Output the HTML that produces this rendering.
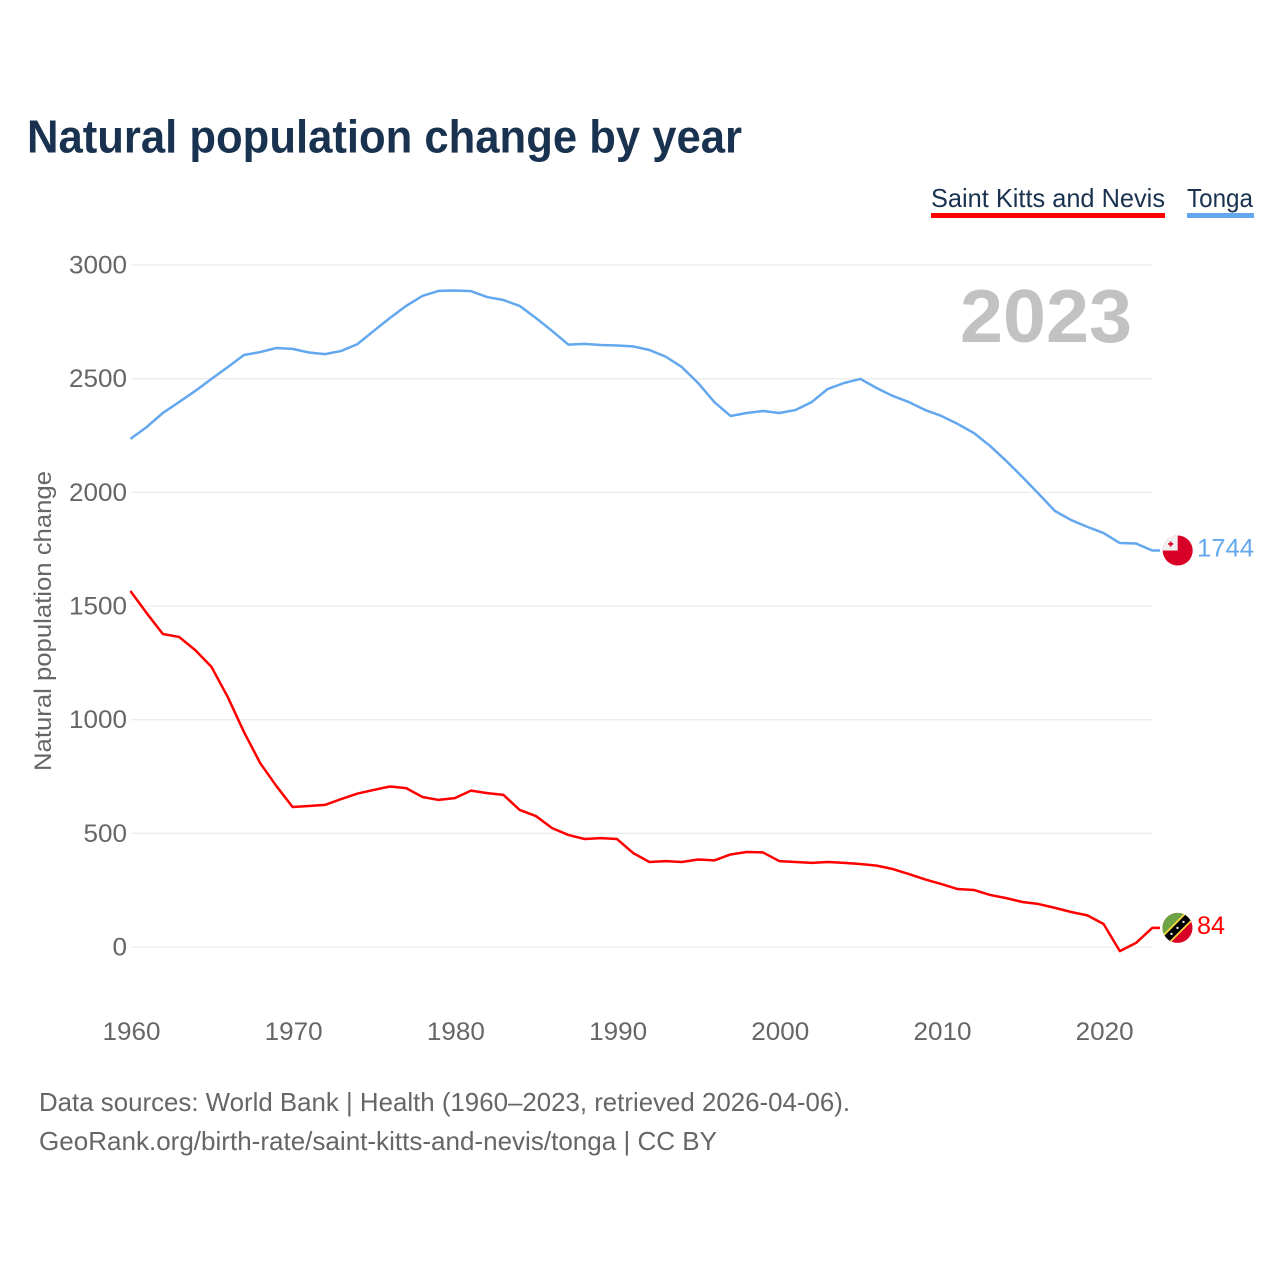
<!DOCTYPE html>
<html lang="en">
<head>
<meta charset="utf-8">
<title>Natural population change by year</title>
<style>
html,body{margin:0;padding:0;background:#fff;width:1280px;height:1280px;overflow:hidden}
svg{display:block;font-family:"Liberation Sans",sans-serif}
</style>
</head>
<body>
<svg id="chart" width="1280" height="1280" viewBox="0 0 1280 1280" xmlns="http://www.w3.org/2000/svg">
  <defs>
    <clipPath id="flag-clip"><circle cx="0" cy="0" r="15"></circle></clipPath>
  </defs>
  <rect width="1280" height="1280" fill="#fff"></rect>
  <text x="27" y="152.5" font-size="46" font-weight="700" fill="#19324f" textLength="715" lengthAdjust="spacingAndGlyphs">Natural population change by year</text>

  <g>
    <text x="931" y="207" font-size="26" fill="#19324f" textLength="234" lengthAdjust="spacingAndGlyphs">Saint Kitts and Nevis</text>
    <rect x="931" y="213" width="234" height="5" fill="#ff0000"></rect>
  </g>
  <g>
    <text x="1187" y="207" font-size="26" fill="#19324f" textLength="66" lengthAdjust="spacingAndGlyphs">Tonga</text>
    <rect x="1187" y="213" width="67" height="5" fill="#63a8ee"></rect>
  </g>

  <g id="grid"></g>
  <g id="y-ticks"></g>
  <g id="x-ticks"></g>

  <text transform="translate(51,771) rotate(-90)" font-size="24" fill="#666" textLength="300" lengthAdjust="spacingAndGlyphs">Natural population change</text>
  <text x="960" y="342" font-size="75" font-weight="700" fill="#c2c2c2" textLength="172" lengthAdjust="spacingAndGlyphs">2023</text>

  <g id="series"></g>
  <g id="markers"></g>

  <text x="39" y="1111" font-size="26" fill="#666" textLength="811" lengthAdjust="spacingAndGlyphs">Data sources: World Bank | Health (1960–2023, retrieved 2026-04-06).</text>
  <text x="39" y="1150" font-size="26" fill="#666" textLength="678" lengthAdjust="spacingAndGlyphs">GeoRank.org/birth-rate/saint-kitts-and-nevis/tonga | CC BY</text>
</svg>
<script>
var startYear = 1960;
var yTickValues = [0, 500, 1000, 1500, 2000, 2500, 3000];
var xTickValues = [1960, 1970, 1980, 1990, 2000, 2010, 2020];
var tongaValues = [2235,2287,2349,2397,2446,2499,2551,2604,2617,2635,2631,2615,2608,2622,2652,2710,2767,2820,2864,2886,2888,2885,2859,2846,2820,2767,2710,2650,2653,2648,2646,2642,2626,2597,2551,2481,2397,2336,2349,2358,2349,2362,2397,2455,2481,2499,2459,2424,2397,2362,2336,2301,2261,2204,2138,2067,1993,1918,1878,1848,1821,1777,1775,1744];
var kittsValues = [1566,1469,1377,1364,1306,1232,1100,946,809,708,616,620,625,651,675,691,706,699,660,647,655,688,677,669,603,576,523,493,475,479,475,413,374,378,374,385,381,407,418,416,378,374,370,374,370,365,358,343,321,297,277,255,251,229,215,198,189,172,154,139,101,-18,18,84];

var NS = 'http://www.w3.org/2000/svg';
function xScale(year) { return 130.4 + (year - 1960) * 16.22; }
function yScale(value) { return 947 - value * 0.22733; }
function make(tag, attrs, parent) {
  var el = document.createElementNS(NS, tag);
  for (var k in attrs) el.setAttribute(k, attrs[k]);
  parent.appendChild(el);
  return el;
}
var grid = document.getElementById('grid');
var yTicks = document.getElementById('y-ticks');
var xTicks = document.getElementById('x-ticks');
var series = document.getElementById('series');
var markers = document.getElementById('markers');

yTickValues.forEach(function (v) {
  var line = make('line', {x1: 131, x2: 1152, y1: yScale(v), y2: yScale(v), stroke: '#ececec', 'stroke-width': 1.3}, grid);
  
  
  var label = make('text', {x: 127, y: yScale(v) + 8.5, 'text-anchor': 'end', 'font-size': 25, fill: '#666'}, yTicks);
  
  
  label.setAttribute('textLength', String(v).length * 14.5);
  label.setAttribute('lengthAdjust', 'spacingAndGlyphs');
  label.textContent = v;
});
xTickValues.forEach(function (year) {
  var label = make('text', {x: xScale(year) + 1.1, y: 1040, 'text-anchor': 'middle', 'font-size': 25, fill: '#666'}, xTicks);
  
  
  label.setAttribute('textLength', 58);
  label.setAttribute('lengthAdjust', 'spacingAndGlyphs');
  label.textContent = year;
});

function drawSeries(values, color, seriesName) {
  var pts = values.map(function (v, i) { return xScale(startYear + i).toFixed(2) + ',' + yScale(v).toFixed(2); });
  var last = values[values.length - 1];
  pts.push('1160,' + yScale(last).toFixed(2));
  var line = make('polyline', {points: pts.join(' '), fill: 'none', stroke: color, 'stroke-width': 2.5, 'stroke-linejoin': 'round'}, series);
  
  
}
drawSeries(tongaValues, '#63a8ee', 'line-tonga');
drawSeries(kittsValues, '#ff0000', 'line-saint-kitts');

function drawValueLabel(value, color, name, width) {
  var label = make('text', {x: 1197, y: yScale(value) + 6, 'font-size': 25, fill: color}, markers);
  
  
  label.setAttribute('textLength', width);
  label.setAttribute('lengthAdjust', 'spacingAndGlyphs');
  label.textContent = value;
}
var tongaLast = tongaValues[tongaValues.length - 1];
var kittsLast = kittsValues[kittsValues.length - 1];

var tongaFlag = make('g', {transform: 'translate(1177.7,' + yScale(tongaLast) + ')', 'clip-path': 'url(#flag-clip)'}, markers);


make('rect', {x: -16, y: -16, width: 32, height: 32, fill: '#d80027'}, tongaFlag);
make('rect', {x: -16, y: -16, width: 16, height: 16, fill: '#f0f0f0'}, tongaFlag);
make('rect', {x: -9.5, y: -7.5, width: 5, height: 1.8, fill: '#d80027'}, tongaFlag);
make('rect', {x: -7.9, y: -9, width: 1.8, height: 5, fill: '#d80027'}, tongaFlag);

var kittsFlag = make('g', {transform: 'translate(1177.5,' + yScale(kittsLast) + ')', 'clip-path': 'url(#flag-clip)'}, markers);


make('rect', {x: -16, y: -16, width: 32, height: 32, fill: '#d80027'}, kittsFlag);
make('polygon', {points: '-16,-16 16,-16 -16,16', fill: '#6da544'}, kittsFlag);
make('line', {x1: -16, y1: 16, x2: 16, y2: -16, stroke: '#ffda44', 'stroke-width': 11}, kittsFlag);
make('line', {x1: -16, y1: 16, x2: 16, y2: -16, stroke: '#000', 'stroke-width': 7.5}, kittsFlag);
make('circle', {cx: -6, cy: 6, r: 1.2, fill: '#f0f0f0'}, kittsFlag);
make('circle', {cx: 0, cy: 0, r: 1.2, fill: '#f0f0f0'}, kittsFlag);
make('circle', {cx: 6, cy: -6, r: 1.2, fill: '#f0f0f0'}, kittsFlag);

drawValueLabel(tongaLast, '#63a8ee', 'tonga-end-value', 57);
drawValueLabel(kittsLast, '#ff0000', 'saint-kitts-end-value', 28);
</script>
</body>
</html>
